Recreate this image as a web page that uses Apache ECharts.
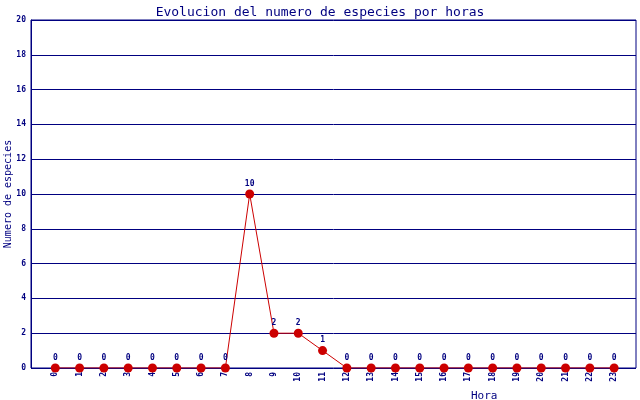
<!DOCTYPE html>
<html>
<head>
<meta charset="utf-8">
<script src="https://cdn.jsdelivr.net/npm/echarts@6/dist/echarts.min.js"></script>
<style>
  html, body { margin: 0; padding: 0; background: #fff; }
  #chart { width: 640px; height: 400px; }
</style>
</head>
<body>
<div id="chart"></div>
<script>
  // horas 0..23 y numero de especies
  var horas = [0, 1, 2, 3, 4, 5, 6, 7, 8, 9, 10, 11, 12, 13, 14, 15, 16, 17, 18, 19, 20, 21, 22, 23]
  var especies = [0, 0, 0, 0, 0, 0, 0, 0, 10, 2, 2, 1, 0, 0, 0, 0, 0, 0, 0, 0, 0, 0, 0, 0]
  var yTicks = [0, 2, 4, 6, 8, 10, 12, 14, 16, 18, 20]

  var navy = '#000080'
  var red = '#cc0000'
  var mono = 'DejaVu Sans Mono'

  var chart = echarts.init(document.getElementById('chart'))
  chart.setOption({
    animation: false,
    title: [{
      text: 'Evolucion del numero de especies por horas',
      left: 'center',
      top: 1,
      textStyle: { fontFamily: mono, fontSize: 13, fontWeight: 'normal', color: navy }
    }, {
      text: 'Hora',
      left: 466,
      top: 386,
      textStyle: { fontFamily: mono, fontSize: 11, fontWeight: 'normal', color: navy }
    }],
    grid: {
      left: 31, right: 4, top: 20, bottom: 32,
      outerBoundsMode: 'none',
      containLabel: false,
      show: true, borderColor: navy, borderWidth: 1
    },
    xAxis: {
      type: 'value',
      min: -1,
      max: 23.9,
      interval: 1,
      axisLine: { show: false },
      axisTick: { show: false },
      splitLine: { show: false },
      axisLabel: {
        rotate: 90,
        margin: 4,
        fontFamily: mono,
        fontSize: 8,
        fontWeight: 'bold',
        color: navy,
        showMaxLabel: false,
        formatter: function (v) {
          return horas.indexOf(v) >= 0 ? String(v) : ''
        }
      }
    },
    yAxis: {
      type: 'value',
      min: yTicks[0],
      max: yTicks[yTicks.length - 1],
      interval: 2,
      name: 'Numero de especies',
      nameLocation: 'middle',
      nameGap: 18,
      nameMoveOverlap: false,
      nameTextStyle: { fontFamily: mono, fontSize: 10, color: navy },
      axisLine: { show: true, onZero: false, lineStyle: { color: navy, width: 1 } },
      axisTick: { show: false },
      splitLine: { show: true, lineStyle: { color: navy, width: 1 } },
      axisLabel: {
        margin: 5,
        fontFamily: mono,
        fontSize: 8,
        fontWeight: 'bold',
        color: navy
      }
    },
    series: [{
      type: 'line',
      data: horas.map(function (h, i) { return [h, especies[i]] }),
      symbol: 'circle',
      symbolSize: 9,
      itemStyle: { color: red },
      lineStyle: { color: red, width: 1 },
      label: {
        show: true,
        position: 'top',
        distance: 2,
        fontFamily: mono,
        fontSize: 8,
        fontWeight: 'bold',
        color: navy,
        formatter: function (p) { return p.value[1] }
      }
    }]
  })
</script>
</body>
</html>
